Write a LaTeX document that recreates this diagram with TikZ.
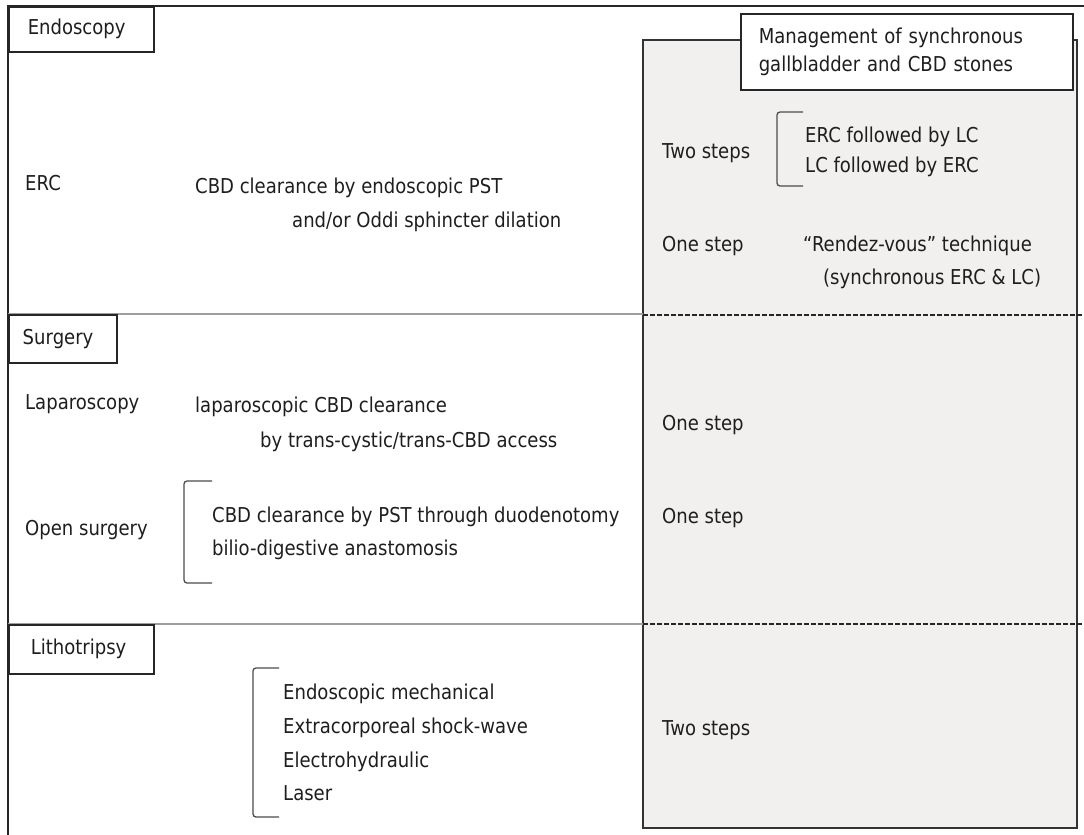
\documentclass[tikz,border=0pt]{standalone}
\usepackage{fontspec}
\setmainfont{DejaVu Sans}[FakeStretch=0.88]
\definecolor{boxgray}{HTML}{F2F0EF}
\definecolor{inkc}{HTML}{1E1E1E}
\begin{document}
\begin{tikzpicture}[x=1pt,y=-1pt,
  frameline/.style={line width=2pt, draw=black!85},
  sepline/.style={line width=2pt, draw=black!38},
  dashsep/.style={line width=1.3pt, draw=black!85, dash pattern=on 5pt off 2pt},
  txt/.style={anchor=base west, inner sep=0pt, text=inkc, font=\fontsize{20.5}{28}\selectfont},
  tag/.style={draw=black!85, line width=1.5pt, fill=white, anchor=north west, inner ysep=0pt,
              align=left, text=inkc, font=\fontsize{20.5}{28}\selectfont},
  brk/.style={line width=1.3pt, draw=black!70, rounded corners=3pt}]
\useasboundingbox (0,0) rectangle (1084,835);
% outer frame
\draw[frameline] (8,835) -- (8,6) -- (1084,6);
% grey panel
\draw[line width=1.5pt, draw=black!80, fill=boxgray] (643,40) rectangle (1077,828);
% separators
\draw[sepline] (8,314) -- (643,314);
\draw[dashsep] (643,315) -- (1084,315);
\draw[sepline] (8,624) -- (643,624);
\draw[dashsep] (643,624) -- (1084,624);
% section tags
\node[tag, inner xsep=19pt, text width=107pt, minimum height=45pt] (endo) at (8,6) {Endoscopy};
\node[tag, inner xsep=14pt, text width=80pt, minimum height=48pt] (surg) at (8,314) {Surgery};
\node[tag, inner xsep=22pt, text width=101pt, minimum height=49pt] (litho) at (8,624) {Lithotripsy};
\node[tag, inner xsep=18pt, text width=296pt, minimum height=76pt] (title) at (740,13)
  {Management of synchronous\\gallbladder and CBD stones};
% Endoscopy section
\node[txt] (erc) at (25,190) {ERC};
\node[txt] (erc1) at (195,193) {CBD clearance by endoscopic PST};
\node[txt] (erc2) at (292,227) {and/or Oddi sphincter dilation};
\node[txt] (two1) at (662,158) {Two steps};
\node[txt] (t1a) at (805,142) {ERC followed by LC};
\node[txt] (t1b) at (805,172) {LC followed by ERC};
\draw[brk] (803,112) -- (777,112) -- (777,186) -- (803,186);
\node[txt] (one1) at (662,251) {One step};
\node[txt] (rv1) at (803,251) {“Rendez-vous” technique};
\node[txt] (rv2) at (823,284) {(synchronous ERC \& LC)};
% Surgery section
\node[txt] (lap) at (25,409) {Laparoscopy};
\node[txt] (lap1) at (195,412) {laparoscopic CBD clearance};
\node[txt] (lap2) at (260,447) {by trans-cystic/trans-CBD access};
\node[txt] (one2) at (662,430) {One step};
\node[txt] (open) at (25,535) {Open surgery};
\node[txt] (op1) at (212,522) {CBD clearance by PST through duodenotomy};
\node[txt] (op2) at (212,555) {bilio-digestive anastomosis};
\draw[brk] (212,481) -- (184,481) -- (184,583) -- (212,583);
\node[txt] (one3) at (662,523) {One step};
% Lithotripsy section
\node[txt] (l1) at (283,699) {Endoscopic mechanical};
\node[txt] (l2) at (283,733) {Extracorporeal shock-wave};
\node[txt] (l3) at (283,767) {Electrohydraulic};
\node[txt] (l4) at (283,800) {Laser};
\draw[brk] (279,668) -- (253,668) -- (253,817) -- (279,817);
\node[txt] (two2) at (662,735) {Two steps};
\end{tikzpicture}
\end{document}
